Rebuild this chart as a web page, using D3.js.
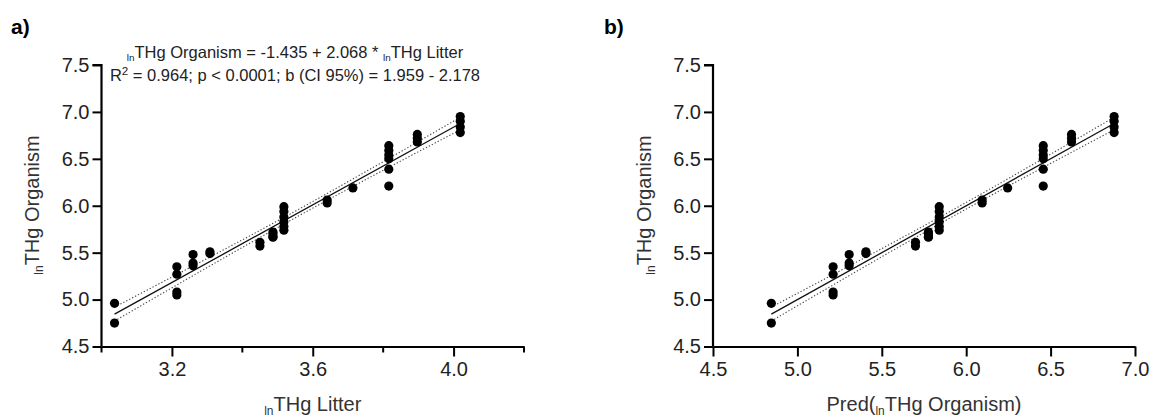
<!DOCTYPE html>
<html>
<head>
<meta charset="utf-8">
<script src="https://cdn.jsdelivr.net/npm/d3@7/dist/d3.min.js"></script>
<style>
  html, body { margin: 0; padding: 0; background: #fff; }
  svg { display: block; font-family: "Liberation Sans", Arial, sans-serif; }
</style>
</head>
<body>
<svg id="chart" width="1153" height="419"></svg>
<script>
// ln THg in litter (x) and in the organism (y), one entry per sample
const litter = [
  3.037, 3.037,
  3.214, 3.214, 3.214, 3.214,
  3.260, 3.260, 3.260,
  3.308, 3.308,
  3.450, 3.450,
  3.487, 3.487, 3.487, 3.487,
  3.518, 3.518, 3.518, 3.518, 3.518, 3.518,
  3.641, 3.641,
  3.714,
  3.816, 3.816, 3.816, 3.816, 3.816, 3.816,
  3.897, 3.897, 3.897,
  4.019, 4.019, 4.019, 4.019
];
const organism = [
  4.96, 4.75,
  5.35, 5.27, 5.08, 5.05,
  5.48, 5.39, 5.36,
  5.51, 5.49,
  5.61, 5.57,
  5.72, 5.70, 5.67, 5.665,
  5.99, 5.94, 5.88, 5.83, 5.78, 5.74,
  6.06, 6.03,
  6.19,
  6.64, 6.59, 6.54, 6.50, 6.39, 6.21,
  6.76, 6.72, 6.68,
  6.95, 6.90, 6.84, 6.78
];

// fitted model: lnTHg Organism = intercept + slope * lnTHg Litter
const intercept = -1.435;
const slope = 2.068;
const tCrit = 2.026; // t(0.975, df = 37)

// axis ticks
const yTicks = [4.5, 5.0, 5.5, 6.0, 6.5, 7.0, 7.5];
const xTicksA = [3.2, 3.6, 4.0];
const xMinorA = [3.0, 3.4, 3.8, 4.2];
const xTicksB = [4.5, 5.0, 5.5, 6.0, 6.5, 7.0];

const predicted = litter.map(x => intercept + slope * x);

// confidence band of the fitted mean
const n = litter.length;
const xBar = d3.mean(litter);
const sxx = d3.sum(litter, x => (x - xBar) ** 2);
const sse = d3.sum(litter, (x, i) => (organism[i] - (intercept + slope * x)) ** 2);
const sRes = Math.sqrt(sse / (n - 2));
const halfWidth = x => tCrit * sRes * Math.sqrt(1 / n + (x - xBar) ** 2 / sxx);

const svg = d3.select("#chart");
const FONT_TICK = 20;

const yScale = d3.scaleLinear().domain([4.5, 7.5]).range([346.5, 65]);

function subLabel(sel, parts) {
  // parts: [{t, sub}] — "sub" parts drawn small and lowered, "sup" raised
  parts.forEach(p => {
    if (p.sub) {
      sel.append("tspan").attr("font-size", "0.6em").attr("dy", "0.3em").text(p.t);
    } else if (p.sup) {
      sel.append("tspan").attr("font-size", "0.7em").attr("dy", "-0.5em").text(p.t);
    } else {
      sel.append("tspan").attr("dy", p.dy || 0).text(p.t);
    }
  });
}

function panel(opts) {
  const { xScale, xs, ticks, minor, bandX, lineY, xLabel, tag, tagX } = opts;
  const g = svg.append("g");

  // y axis
  const yAxis = d3.axisLeft(yScale).tickValues(yTicks).tickFormat(d3.format(".1f"))
    .tickSize(9).tickPadding(3);
  const ya = g.append("g").attr("transform", `translate(${xScale.range()[0]},0)`).call(yAxis);
  ya.select(".domain").attr("stroke-width", 2.2).attr("d",
    `M-9,${yScale(7.5)}H0V${yScale(4.5)}`);
  ya.selectAll(".tick line").attr("stroke-width", 2);
  ya.selectAll(".tick text").attr("font-size", FONT_TICK).attr("fill", "#222")
    .attr("font-family", "Liberation Sans, Arial, sans-serif");

  // x axis
  const xAxis = d3.axisBottom(xScale).tickValues(ticks).tickFormat(d3.format(".1f"))
    .tickSize(10).tickSizeOuter(0).tickPadding(5);
  const xa = g.append("g").attr("transform", `translate(0,${yScale(4.5)})`).call(xAxis);
  xa.select(".domain").attr("stroke-width", 2.2);
  xa.selectAll(".tick line").attr("stroke-width", 2);
  xa.selectAll(".tick text").attr("font-size", FONT_TICK).attr("fill", "#222")
    .attr("font-family", "Liberation Sans, Arial, sans-serif");
  if (minor) {
    xa.selectAll(".minor").data(minor).enter().append("line")
      .attr("x1", d => xScale(d)).attr("x2", d => xScale(d))
      .attr("y1", 0).attr("y2", 6).attr("stroke", "#000").attr("stroke-width", 2);
  }

  // confidence band and fitted line
  const [x0, x1] = d3.extent(bandX);
  const sample = d3.range(0, 61).map(i => x0 + (x1 - x0) * i / 60);
  const line = d3.line();
  [-1, 1].forEach(sign => {
    g.append("path")
      .attr("d", line(sample.map(v => [opts.toX(v), yScale(lineY(v) + sign * halfWidth(v))])))
      .attr("fill", "none").attr("stroke", "#444").attr("stroke-width", 1.1)
      .attr("stroke-dasharray", "1.3,2");
  });
  g.append("path")
    .attr("d", line([x0, x1].map(v => [opts.toX(v), yScale(lineY(v))])))
    .attr("fill", "none").attr("stroke", "#111").attr("stroke-width", 1.3);

  // points
  g.selectAll("circle.pt").data(xs.map((x, i) => [x, organism[i]])).enter()
    .append("circle").attr("class", "pt")
    .attr("cx", d => xScale(d[0])).attr("cy", d => yScale(d[1]))
    .attr("r", 4.6).attr("fill", "#000");

  // y label
  const yl = g.append("text")
    .attr("transform", `translate(${opts.yLabelX},205) rotate(-90)`)
    .attr("text-anchor", "middle").attr("font-size", 20).attr("fill", "#333");
  subLabel(yl, [{ t: "ln", sub: true }, { t: "THg Organism", dy: "-0.18em" }]);

  // x label
  const xl = g.append("text")
    .attr("x", (xScale.range()[0] + xScale.range()[1]) / 2)
    .attr("y", 411).attr("text-anchor", "middle").attr("font-size", 20).attr("fill", "#333");
  subLabel(xl, xLabel);

  // panel tag
  svg.append("text").attr("x", tagX).attr("y", 34).attr("font-size", 21)
    .attr("font-weight", "bold").attr("fill", "#000").text(tag);
}

// panel a: organism vs litter
const xA = d3.scaleLinear().domain([3.0, 4.2]).range([101.5, 524]);
panel({
  xScale: xA, xs: litter, ticks: xTicksA, minor: xMinorA,
  bandX: litter, toX: v => xA(v),
  lineY: v => intercept + slope * v,
  xLabel: [{ t: "ln", sub: true }, { t: "THg Litter", dy: "-0.18em" }],
  yLabelX: 39, tag: "a)", tagX: 11
});

// panel b: organism vs predicted organism
const xB = d3.scaleLinear().domain([4.5, 7.0]).range([713, 1135]);
panel({
  xScale: xB, xs: predicted, ticks: xTicksB, minor: null,
  bandX: litter, toX: v => xB(intercept + slope * v),
  lineY: v => intercept + slope * v,
  xLabel: [{ t: "Pred(" }, { t: "ln", sub: true }, { t: "THg Organism)", dy: "-0.18em" }],
  yLabelX: 651, tag: "b)", tagX: 604
});

// regression summary for panel a
const eq1 = svg.append("text").attr("x", 295).attr("y", 58)
  .attr("text-anchor", "middle").attr("font-size", 16.5).attr("fill", "#222");
subLabel(eq1, [
  { t: "ln", sub: true },
  { t: `THg Organism = ${intercept.toFixed(3)} + ${slope.toFixed(3)} * `, dy: "-0.18em" },
  { t: "ln", sub: true },
  { t: "THg Litter", dy: "-0.18em" }
]);
const eq2 = svg.append("text").attr("x", 295).attr("y", 81)
  .attr("text-anchor", "middle").attr("font-size", 16.5).attr("fill", "#222");
subLabel(eq2, [
  { t: "R" },
  { t: "2", sup: true },
  { t: " = 0.964; p < 0.0001; b (CI 95%) = 1.959 - 2.178", dy: "0.35em" }
]);
</script>
</body>
</html>
